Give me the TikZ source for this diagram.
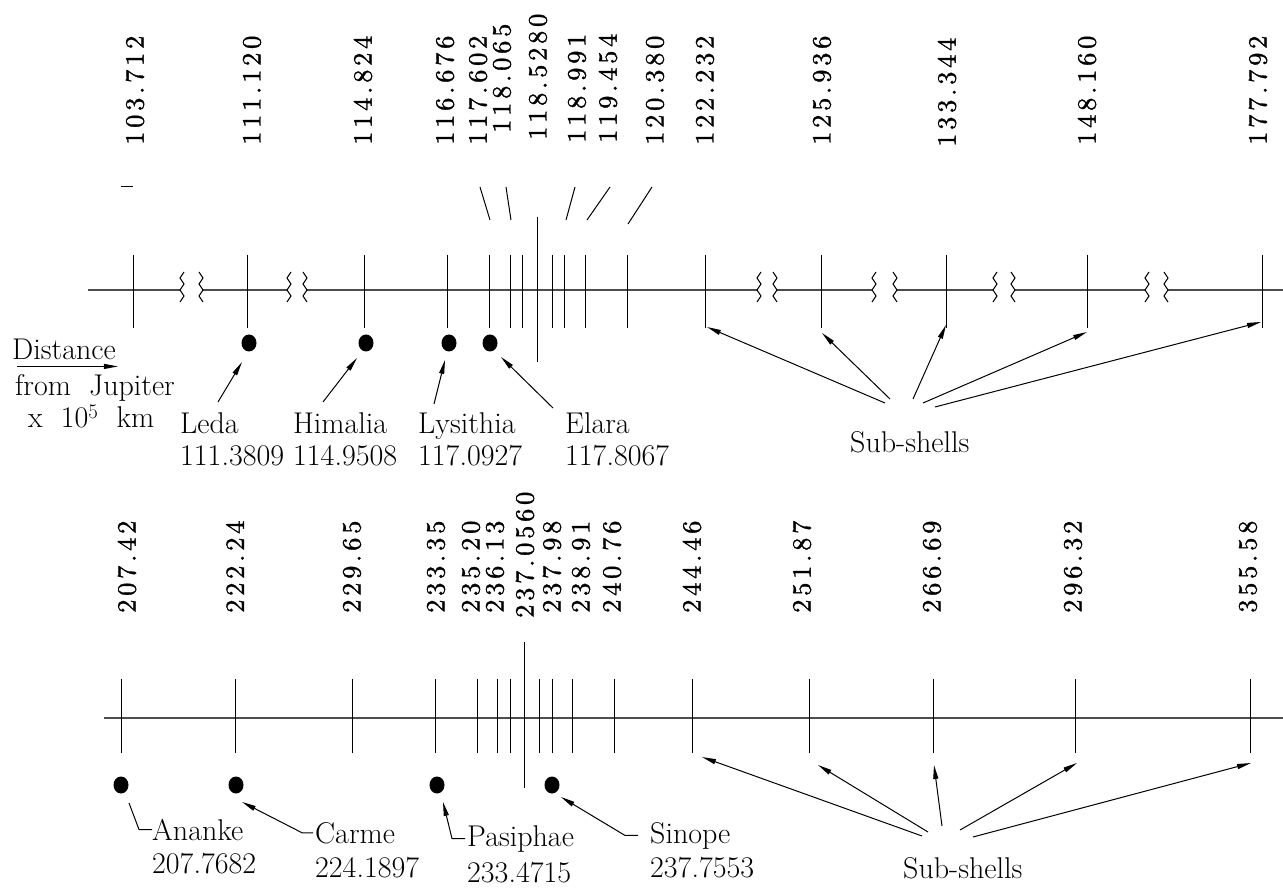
\documentclass[tikz,border=0pt]{standalone}
\usepackage{fontspec}
\newfontfamily\tickfont{lmroman10-regular}[Extension=.otf,LetterSpace=14,FakeBold=1.2]
\usetikzlibrary{arrows.meta,positioning,calc,shapes.geometric}

\begin{document}
\begin{tikzpicture}[x=1pt,y=-1pt,>={Triangle[length=14pt,width=5pt]},
  axis/.style={line width=1.4pt,black!70},
  tick/.style={line width=1pt},
  val/.style={rotate=90,anchor=west,inner sep=0pt,font=\fontsize{26.5}{27}\tickfont},
  moon/.style={ellipse,fill=black,minimum width=15pt,minimum height=17pt,inner sep=0pt},
  lab/.style={inner sep=0pt,anchor=base west,font=\fontsize{30}{33}\selectfont},
  ptr/.style={->,line width=1pt}]
\useasboundingbox (0,0) rectangle (1283,890);
% upper scale
\foreach \a/\b in {88/180,203/287,307/757,777/872,897/993,1015/1145,1168/1283}
  \draw[axis] (\a,290)--(\b,290);
\foreach \a/\b in {180/203,287/307,757/777,872/897,993/1015,1145/1168} {
  \draw[tick] (\a+4,272)--(\a,278)--(\a+4,284)--(\a,290)--(\a+4,296)--(\a,302);
  \draw[tick] (\b-4,272)--(\b,278)--(\b-4,284)--(\b,290)--(\b-4,296)--(\b,302);
}
\foreach \x in {133,247,364,447,489,510,522,552,564,585,627,705,821,946,1087,1262}
  \draw[tick] (\x,255)--(\x,328);
\draw[tick] (537,217)--(537,362);
\foreach \x/\y/\lbl [count=\i] in {135/145/103.712,252/145/111.120,363/145/114.824,445/145/116.676,478/145/117.602,502/133/118.065,538/140/118.5280,577/143/118.991,608/143/119.454,655/145/120.380,705/145/122.232,822/145/125.936,947/147/133.344,1087/145/148.160,1258/145/177.792}
  \node[val] (tv\i) at (\x,\y) {\lbl};
\foreach \a/\b/\c/\d in {121/187/133/187,480/187/490/220,506/187/511/220,575/187/566/220,610/187/587/220,652/187/628/224}
  \draw[tick] (\a,\b)--(\c,\d);

\node[lab] (dist) at (12,360) {Distance};
\draw[->,line width=1pt] ([xshift=5,yshift=-6]dist.south west)--([xshift=2,yshift=-6]dist.south east);
\node[lab] (from) at (15,396) {from\ \ Jupiter};
\node[lab] (unit) at (28,428) {x\ \ 10$^5$\ \ km};

\node[moon] (leda) at (249,343) {};
\node[moon] (himalia) at (366,343) {};
\node[moon] (lysithia) at (449,343) {};
\node[moon] (elara) at (490,343) {};
\node[lab] (ledan) at (180,434) {Leda};
\node[lab] (ledav) at (180,466) {111.3809};
\node[lab] (himalian) at (293,434) {Himalia};
\node[lab] (himaliav) at (293,466) {114.9508};
\node[lab] (lysithian) at (418,434) {Lysithia};
\node[lab] (lysithiav) at (418,466) {117.0927};
\node[lab] (elaran) at (565,434) {Elara};
\node[lab] (elarav) at (565,466) {117.8067};
\coordinate (ledat) at (218,402);
\coordinate (himaliat) at (323,402);
\coordinate (lysithiat) at (434,404);
\coordinate (elarat) at (553,408);
\draw[ptr] (ledat)--([shift={(-7,19)}]leda.center);
\draw[ptr] (himaliat)--([shift={(-9,15)}]himalia.center);
\draw[ptr] (lysithiat)--([shift={(-4,17)}]lysithia.center);
\draw[ptr] (elarat)--([shift={(11,14)}]elara.center);

\node[lab] (subup) at (850,453) {Sub-shells};
\foreach \x/\y [count=\i] in {707/327,822/333,946/325,1087/332,1261/322}
  \coordinate (su\i) at (\x,\y);
\foreach \x/\y [count=\i] in {885/403,890/399,913/399,923/403,935/407}
  \coordinate (st\i) at (\x,\y);
\foreach \i in {1,...,5}
  \draw[ptr] (st\i)--(su\i);

% lower scale
\draw[axis] (104,718)--(1283,718);
\foreach \x in {121,235,352,435,477,497,510,539,552,572,614,692,809,933,1075,1250}
  \draw[tick] (\x,679)--(\x,753);
\draw[tick] (524,642)--(524,788);
\foreach \x/\y/\lbl [count=\i] in {127/613/207.42,235/613/222.24,352/613/229.65,436/613/233.35,471/613/235.20,495/613/236.13,525/618/237.0560,552/613/237.98,581/613/238.91,612/613/240.76,692/613/244.46,802/613/251.87,932/613/266.69,1073/613/296.32,1248/613/355.58}
  \node[val] (bv\i) at (\x,\y) {\lbl};

\node[moon] (ananke) at (121,785) {};
\node[moon] (carme) at (236,785) {};
\node[moon] (pasiphae) at (437,785) {};
\node[moon] (sinope) at (552,785) {};
\node[lab] (ananken) at (152,840) {Ananke};
\node[lab] (anankev) at (152,873) {207.7682};
\node[lab] (carmen) at (315,843) {Carme};
\node[lab] (carmev) at (315,877) {224.1897};
\node[lab] (pasiphaen) at (467,846) {Pasiphae};
\node[lab] (pasiphaev) at (467,882) {233.4715};
\node[lab] (sinopen) at (650,843) {Sinope};
\node[lab] (sinopev) at (650,877) {237.7553};
\draw[tick] (ananken.west)--++(-13,0)--([shift={(8,18)}]ananke.center);
\draw[ptr] ([xshift=-2]carmen.west)--++(-11,0)--([shift={(6,17)}]carme.center);
\draw[ptr] ([xshift=-2]pasiphaen.west)--++(-13,0)--([shift={(6,17)}]pasiphae.center);
\draw[ptr] ([xshift=-12]sinopen.west)--++(-13,0)--([shift={(9,12)}]sinope.center);

\node[lab] (sublow) at (903,878) {Sub-shells};
\foreach \x/\y [count=\i] in {702/757,818/765,934/765,1077/763,1251/763}
  \coordinate (sv\i) at (\x,\y);
\foreach \x/\y [count=\i] in {922/836,928/832,942/826,960/830,973/837}
  \coordinate (sw\i) at (\x,\y);
\foreach \i in {1,...,5}
  \draw[ptr] (sw\i)--(sv\i);
\end{tikzpicture}
\end{document}
